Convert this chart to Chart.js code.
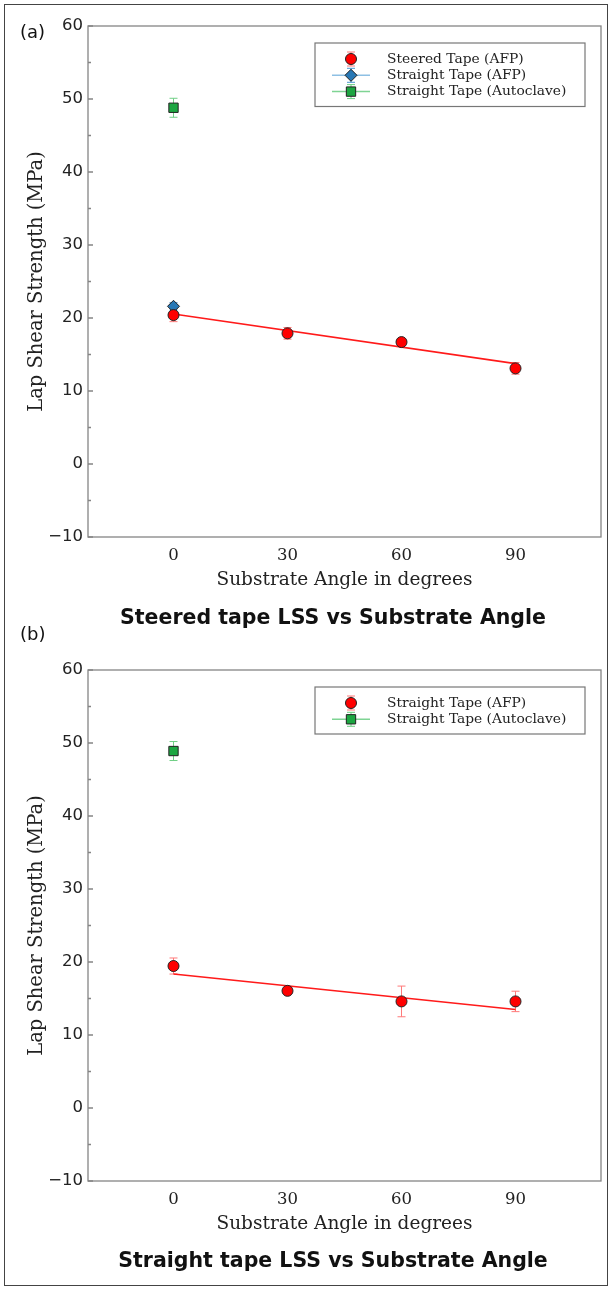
<!DOCTYPE html>
<html>
<head>
<meta charset="utf-8">
<script src="https://cdn.jsdelivr.net/npm/chart.js@4.4.1/dist/chart.umd.min.js"></script>
<style>
  body { margin: 0; background: #fff; }
  #page { position: relative; width: 612px; height: 1289px; overflow: hidden; background: #fff; }
  #frame { position: absolute; left: 4px; top: 4px; width: 604px; height: 1282px; border: 1px solid #444; box-sizing: border-box; }
  canvas { position: absolute; left: 0; }
  .tag { position: absolute; left: 20px; font-family: "DejaVu Sans", sans-serif; font-size: 18px; color: #111; line-height: 20px; }
  .title { position: absolute; left: 333px; transform: translateX(-50%); white-space: nowrap;
           font-family: "DejaVu Sans", sans-serif; font-weight: bold; font-size: 20.5px; line-height: 24px; color: #111; }
</style>
</head>
<body>
<div id="page">
  <div id="frame"></div>
  <canvas id="chartA" width="612" height="645" style="top:0px"></canvas>
  <canvas id="chartB" width="612" height="645" style="top:644px"></canvas>
  <div class="tag" style="top:22px">(a)</div>
  <div class="tag" style="top:624px">(b)</div>
  <div class="title" style="top:605px">Steered tape LSS vs Substrate Angle</div>
  <div class="title" style="top:1248px">Straight tape LSS vs Substrate Angle</div>
</div>
<script>
// x ticks and y range
const angleTicks = [0, 30, 60, 90];
const yTickMin = -10;
const yTickMax = 60;

// panel (a): steered tape
const angles = [0, 30, 60, 90];
const steeredLss = [20.4, 17.9, 16.7, 13.1];
const steeredErr = [0.9, 0.8, 0.4, 0.8];
const steeredFitX = [0, 90];
const steeredFitY = [20.55, 13.75];
const straightAfpA = [21.6];
const straightAfpErrA = [0.5];
const autoclaveA = [48.8];
const autoclaveErrA = [1.3];

// panel (b): straight tape
const straightLss = [19.45, 16.05, 14.6, 14.6];
const straightErr = [1.1, 0.5, 2.1, 1.4];
const straightFitX = [0, 90];
const straightFitY = [18.35, 13.5];
const autoclaveB = [48.9];
const autoclaveErrB = [1.3];

function pts(xs, ys) {
  return ys.map((v, i) => ({ x: xs[i], y: v }));
}

const fmtMinus = (v) => (v < 0 ? "\u2212" + Math.abs(v) : String(v));

// error bars drawn under the markers
const errorBars = {
  id: "errorBars",
  beforeDatasetsDraw(chart) {
    const { ctx, scales: { x, y } } = chart;
    chart.data.datasets.forEach((ds) => {
      if (!ds.errors) return;
      ctx.save();
      ctx.strokeStyle = ds.errorColor;
      ctx.lineWidth = 1;
      ds.data.forEach((p, j) => {
        const px = x.getPixelForValue(p.x);
        const top = y.getPixelForValue(p.y + ds.errors[j]);
        const bot = y.getPixelForValue(p.y - ds.errors[j]);
        ctx.beginPath();
        ctx.moveTo(px, top); ctx.lineTo(px, bot);
        ctx.moveTo(px - 4, top); ctx.lineTo(px + 4, top);
        ctx.moveTo(px - 4, bot); ctx.lineTo(px + 4, bot);
        ctx.stroke();
      });
      ctx.restore();
    });
  }
};

// axes frame with inward ticks, plus the boxed legend
const frameAndLegend = {
  id: "frameAndLegend",
  afterDatasetsDraw(chart, args, opts) {
    const { ctx, chartArea: a, scales: { y } } = chart;
    ctx.save();
    ctx.strokeStyle = "#858585";
    ctx.lineWidth = 1.3;
    ctx.strokeRect(a.left, a.top, a.right - a.left, a.bottom - a.top);
    ctx.beginPath();
    y.ticks.forEach((t) => {
      const py = y.getPixelForValue(t.value);
      ctx.moveTo(a.left, py); ctx.lineTo(a.left + 5, py);
      if (t.value < yTickMax) {
        const pm = y.getPixelForValue(t.value + 5);
        ctx.moveTo(a.left, pm); ctx.lineTo(a.left + 3, pm);
      }
    });
    ctx.stroke();

    // legend
    const items = chart.data.datasets.filter((ds) => ds.inLegend);
    const h = 14 + items.length * 16.5;
    ctx.fillStyle = "#fff";
    ctx.fillRect(opts.left, opts.top, opts.width, h);
    ctx.strokeStyle = "#777";
    ctx.lineWidth = 1.2;
    ctx.strokeRect(opts.left, opts.top, opts.width, h);
    items.forEach((ds, i) => {
      const cy = opts.top + 16 + i * 16.3;
      const mx = opts.left + 36;
      if (ds.handleColor) {
        ctx.strokeStyle = ds.handleColor;
        ctx.lineWidth = 1.5;
        ctx.beginPath();
        ctx.moveTo(mx - 19, cy); ctx.lineTo(mx + 19, cy);
        ctx.stroke();
      }
      ctx.strokeStyle = ds.errorColor;
      ctx.lineWidth = 1;
      ctx.beginPath();
      ctx.moveTo(mx, cy - 7); ctx.lineTo(mx, cy + 7);
      ctx.moveTo(mx - 4, cy - 7); ctx.lineTo(mx + 4, cy - 7);
      ctx.moveTo(mx - 4, cy + 7); ctx.lineTo(mx + 4, cy + 7);
      ctx.stroke();
      ctx.fillStyle = ds.backgroundColor;
      ctx.strokeStyle = ds.borderColor;
      ctx.lineWidth = 1;
      Chart.helpers.drawPoint(ctx, { pointStyle: ds.pointStyle, radius: ds.pointRadius, rotation: 0, borderWidth: 1 }, mx, cy);
      ctx.fillStyle = "#222";
      ctx.font = '13.8px "DejaVu Serif", serif';
      ctx.textBaseline = "middle";
      ctx.textAlign = "left";
      ctx.fillText(ds.label, opts.left + 72, cy);
    });
    ctx.restore();
  }
};

function markerSet(label, data, errors, color, errColor, style, radius, handle) {
  return {
    label: label,
    data: data,
    errors: errors,
    errorColor: errColor,
    handleColor: handle,
    inLegend: true,
    showLine: false,
    pointStyle: style,
    pointRadius: radius,
    pointHoverRadius: radius,
    backgroundColor: color,
    borderColor: "#222",
    pointBorderWidth: 1
  };
}

function fitSet(xs, ys) {
  return {
    label: "fit",
    data: pts(xs, ys),
    showLine: true,
    borderColor: "#ff1a1a",
    borderWidth: 1.6,
    pointRadius: 0,
    inLegend: false
  };
}

function makeChart(id, datasets) {
  return new Chart(document.getElementById(id), {
    type: "scatter",
    data: { datasets: datasets },
    options: {
      responsive: false,
      animation: false,
      devicePixelRatio: 1,
      layout: { padding: { top: 26, right: 11, left: 0, bottom: 46 } },
      plugins: {
        legend: { display: false },
        tooltip: { enabled: false },
        frameAndLegend: { left: 315, top: 43, width: 270 }
      },
      scales: {
        x: {
          type: "linear",
          min: -22.5,
          max: 112.5,
          afterBuildTicks: (s) => { s.ticks = angleTicks.map((v) => ({ value: v })); },
          afterFit: (s) => { s.height = 62; },
          grid: { display: false, drawTicks: false },
          border: { display: false },
          ticks: { color: "#222", padding: 9, font: { family: "DejaVu Serif", size: 16.5 } },
          title: {
            display: true,
            text: "Substrate Angle in degrees",
            color: "#222",
            font: { family: "DejaVu Serif", size: 18.5 },
            padding: { top: 0, bottom: 8 }
          }
        },
        y: {
          min: yTickMin,
          max: yTickMax,
          afterFit: (s) => { s.width = 88; },
          grid: { display: false, drawTicks: false },
          border: { display: false },
          ticks: { stepSize: 10, color: "#222", padding: 5, callback: fmtMinus, font: { family: "DejaVu Sans", size: 16.5 } },
          title: {
            display: true,
            text: "Lap Shear Strength (MPa)",
            color: "#222",
            font: { family: "DejaVu Serif", size: 19.5 },
            padding: { top: 25, bottom: 0 }
          }
        }
      }
    },
    plugins: [errorBars, frameAndLegend]
  });
}

makeChart("chartA", [
  markerSet("Steered Tape (AFP)", pts(angles, steeredLss), steeredErr, "#ff0000", "#ff7a7a", "circle", 5.5, null),
  markerSet("Straight Tape (AFP)", pts([0], straightAfpA), straightAfpErrA, "#2878b5", "#4a95cf", "rectRot", 6, "#8ec0e4"),
  markerSet("Straight Tape (Autoclave)", pts([0], autoclaveA), autoclaveErrA, "#1ca641", "#6fcf85", "rect", 6.6, "#7fd494"),
  fitSet(steeredFitX, steeredFitY)
]);

makeChart("chartB", [
  markerSet("Straight Tape (AFP)", pts(angles, straightLss), straightErr, "#ff0000", "#ff7a7a", "circle", 5.5, null),
  markerSet("Straight Tape (Autoclave)", pts([0], autoclaveB), autoclaveErrB, "#1ca641", "#6fcf85", "rect", 6.6, "#7fd494"),
  fitSet(straightFitX, straightFitY)
]);
</script>
</body>
</html>
